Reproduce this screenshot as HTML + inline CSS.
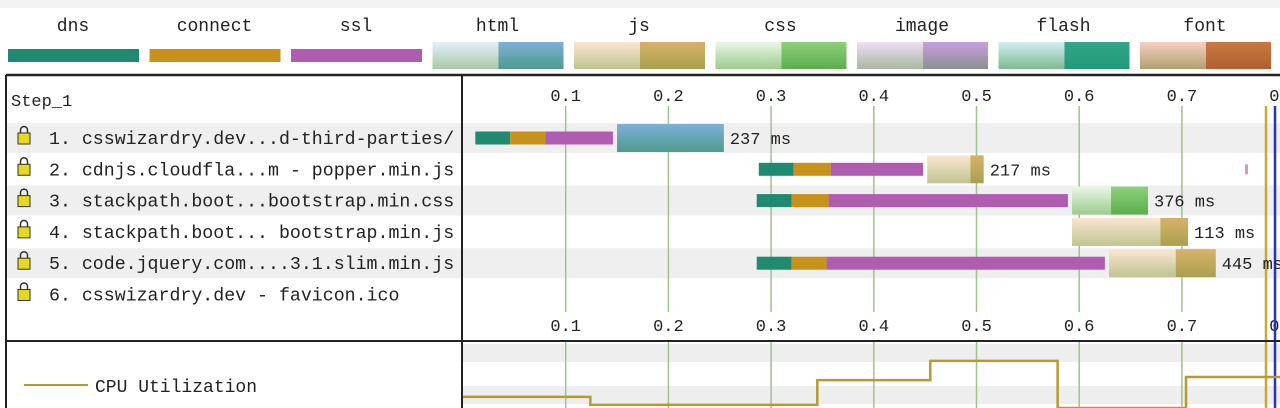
<!DOCTYPE html>
<html><head><meta charset="utf-8"><style>
html,body{margin:0;padding:0;background:#f3f3f3;width:1280px;height:408px;overflow:hidden}
svg{display:block}
text{font-family:"Liberation Mono","DejaVu Sans Mono",monospace;fill:#222}
</style></head><body>
<svg id="chart" width="1280" height="408" viewBox="0 0 1280 408" xmlns="http://www.w3.org/2000/svg">
<defs>
<linearGradient id="gh" x1="0" y1="0" x2="0" y2="1"><stop offset="0" stop-color="#e4f0f8"/><stop offset="1" stop-color="#a9c9a8"/></linearGradient>
<linearGradient id="ghd" x1="0" y1="0" x2="0" y2="1"><stop offset="0" stop-color="#7fb0d8"/><stop offset="1" stop-color="#4d9a8a"/></linearGradient>
<linearGradient id="gj" x1="0" y1="0" x2="0" y2="1"><stop offset="0" stop-color="#fbe6d2"/><stop offset="1" stop-color="#bfc490"/></linearGradient>
<linearGradient id="gjd" x1="0" y1="0" x2="0" y2="1"><stop offset="0" stop-color="#d7b26a"/><stop offset="1" stop-color="#a9a050"/></linearGradient>
<linearGradient id="gc" x1="0" y1="0" x2="0" y2="1"><stop offset="0" stop-color="#eaf6e4"/><stop offset="1" stop-color="#9ccc8e"/></linearGradient>
<linearGradient id="gcd" x1="0" y1="0" x2="0" y2="1"><stop offset="0" stop-color="#8ed07a"/><stop offset="1" stop-color="#5aae4c"/></linearGradient>
<linearGradient id="gi" x1="0" y1="0" x2="0" y2="1"><stop offset="0" stop-color="#efdff5"/><stop offset="1" stop-color="#a9b8a0"/></linearGradient>
<linearGradient id="gid" x1="0" y1="0" x2="0" y2="1"><stop offset="0" stop-color="#c8a0e0"/><stop offset="1" stop-color="#8a9090"/></linearGradient>
<linearGradient id="gf" x1="0" y1="0" x2="0" y2="1"><stop offset="0" stop-color="#d2eef0"/><stop offset="1" stop-color="#80b890"/></linearGradient>
<linearGradient id="gfd" x1="0" y1="0" x2="0" y2="1"><stop offset="0" stop-color="#30a888"/><stop offset="1" stop-color="#20987a"/></linearGradient>
<linearGradient id="gn" x1="0" y1="0" x2="0" y2="1"><stop offset="0" stop-color="#f8cfc0"/><stop offset="1" stop-color="#b0a070"/></linearGradient>
<linearGradient id="gnd" x1="0" y1="0" x2="0" y2="1"><stop offset="0" stop-color="#c87840"/><stop offset="1" stop-color="#b06030"/></linearGradient>
</defs>
<rect x="0" y="8" width="1280" height="400" fill="#fff"/>
<g id="legend"></g>
<line x1="6" y1="75" x2="1280" y2="75" stroke="#222" stroke-width="2.5"/>
<line x1="6" y1="75" x2="6" y2="408" stroke="#222" stroke-width="2"/>
<g id="bands"></g>
<g id="grid"></g>
<g id="bars"></g>
<g id="labels"></g>
<g id="cpu"></g>
<line x1="462" y1="75" x2="462" y2="408" stroke="#222" stroke-width="2"/>
<line x1="6" y1="341" x2="1280" y2="341" stroke="#222" stroke-width="2"/>
</svg>
<script>
const NS="http://www.w3.org/2000/svg";
const legendNames=["dns","connect","ssl","html","js","css","image","flash","font"];
const ticks=[0.1,0.2,0.3,0.4,0.5,0.6,0.7,0.8];
const requestLabels=["1. csswizardry.dev...d-third-parties/","2. cdnjs.cloudfla...m - popper.min.js","3. stackpath.boot...bootstrap.min.css","4. stackpath.boot... bootstrap.min.js","5. code.jquery.com....3.1.slim.min.js","6. csswizardry.dev - favicon.ico"];
const dnsStart=[0.012,0.288,0.286,null,0.286,null];
const connectStart=[0.046,0.322,0.320,null,0.320,null];
const sslStart=[0.080,0.358,0.356,null,0.354,null];
const reqStart=[0.150,0.452,0.593,0.593,0.629,null];
const ttfb=[0.150,0.494,0.631,0.679,0.694,null];
const endTime=[0.254,0.507,0.667,0.706,0.733,null];
const types=["html","js","css","js","js",null];
const durations=["237 ms","217 ms","376 ms","113 ms","445 ms",""];
const cpuTimes=[0,0.124,0.345,0.455,0.579,0.704,0.8];
const cpuValues=[18,5,45,76,0,50,50];

const X0=463,PX=1027;
const x=t=>X0+t*PX;
const ROW0=138,RH=31.3;
const y=i=>ROW0+i*RH;
const cpuY=v=>408-v*0.62;
function el(tag,attrs,parent){const e=document.createElementNS(NS,tag);for(const k in attrs)e.setAttribute(k,attrs[k]);parent.appendChild(e);return e;}
const solid={dns:"#1f8a70",connect:"#c8921a",ssl:"#b05cb0"};
const grad={html:["gh","ghd"],js:["gj","gjd"],css:["gc","gcd"],image:["gi","gid"],flash:["gf","gfd"],font:["gn","gnd"]};

const lg=document.getElementById('legend');
legendNames.forEach((n,i)=>{
  const cx=73+i*141.5;
  const t=el('text',{x:cx,y:31,'text-anchor':'middle','font-size':18},lg);t.textContent=n;
  
  
  let r;
  if(solid[n]){r=el('rect',{x:cx-65,y:49,width:131,height:13,fill:solid[n]},lg);}
  else{
    const g=el('g',{},lg);
    el('rect',{x:cx-65,y:42,width:66,height:27,fill:'url(#'+grad[n][0]+')'},g);
    el('rect',{x:cx+1,y:42,width:65,height:27,fill:'url(#'+grad[n][1]+')'},g);
    r=g;
  }
  
  
});

const bands=document.getElementById('bands');
requestLabels.forEach((l,i)=>{if(i%2===0){const b=el('rect',{x:7,y:y(i)-15,width:1273,height:30,fill:'#efefef'},bands);

}});
[[344,362],[386,404]].forEach(([a,b2])=>{el('rect',{x:463,y:a,width:817,height:b2-a,fill:'#eeeeee'},bands);});

const grid=document.getElementById('grid');
ticks.forEach(t=>{
  const xx=x(t);
  if(t<0.79){const gl=el('line',{x1:xx,y1:106,x2:xx,y2:312,stroke:'#9cc48c','stroke-width':1.5},grid);
  
  
  el('line',{x1:xx,y1:342,x2:xx,y2:408,stroke:'#9cc48c','stroke-width':1.5},grid);}
  [101,331].forEach(yy=>{const tx=el('text',{x:xx,y:yy,'text-anchor':'middle','font-size':17},grid);tx.textContent=String(t);
  
  });
});
el('line',{x1:1266,y1:106,x2:1266,y2:408,stroke:'#c8a830','stroke-width':2.5},grid);
el('line',{x1:1275,y1:106,x2:1275,y2:408,stroke:'#2233cc','stroke-width':2.5},grid);

const lb=document.getElementById('labels');
const st=el('text',{x:11,y:106,'font-size':17},lb);st.textContent="Step_1";

requestLabels.forEach((l,i)=>{
  const yy=y(i);
  const g=el('g',{},lb);
  
  
  el('rect',{x:18,y:yy-5,width:12,height:11,fill:'#e6d81a',stroke:'#333','stroke-width':1},g);
  el('path',{d:`M20.5 ${yy-5} v-3 a3.5 3.5 0 0 1 7 0 v3`,fill:'none',stroke:'#333','stroke-width':1.5},g);
  const len=l.length*10.95;
  const t=el('text',{x:49,y:yy+6,'font-size':18,textLength:len,lengthAdjust:'spacingAndGlyphs'},g);t.textContent=l;
});

const bars=document.getElementById('bars');
requestLabels.forEach((l,i)=>{
  if(reqStart[i]==null)return;
  const yy=y(i);
  const g=el('g',{},bars);
  
  
  const seg=(a,b,f,h)=>el('rect',{x:x(a),y:yy-h/2,width:Math.max(0,x(b)-x(a)),height:h,fill:f},g);
  if(dnsStart[i]!=null){seg(dnsStart[i],connectStart[i],solid.dns,13);seg(connectStart[i],sslStart[i],solid.connect,13);seg(sslStart[i],reqStart[i]-0.004,solid.ssl,13);}
  const gg=grad[types[i]];
  seg(reqStart[i],ttfb[i],'url(#'+gg[0]+')',28);
  seg(ttfb[i],endTime[i],'url(#'+gg[1]+')',28);
  const t=el('text',{x:x(endTime[i])+6,y:yy+6,'font-size':17},g);t.textContent=durations[i];
});
el('rect',{x:1245,y:y(1)-5,width:3,height:10,fill:'#e090d0'},bars);

const cpu=document.getElementById('cpu');
const lt=el('text',{x:95,y:392,'font-size':18},cpu);lt.textContent="CPU Utilization";

el('line',{x1:24,y1:385,x2:88,y2:385,stroke:'#b89a30','stroke-width':2},cpu);
let d='';
cpuTimes.forEach((t,i)=>{
  const xx=i===0?x(t)-1:x(t);const yy=cpuY(cpuValues[i]);
  if(i===0)d+=`M${xx} ${yy}`;else d+=` H${xx} V${yy}`;
});
d+=' H1280';
const p=el('path',{d:d,fill:'none',stroke:'#b89a30','stroke-width':2.5},cpu);


</script>
</body></html>
